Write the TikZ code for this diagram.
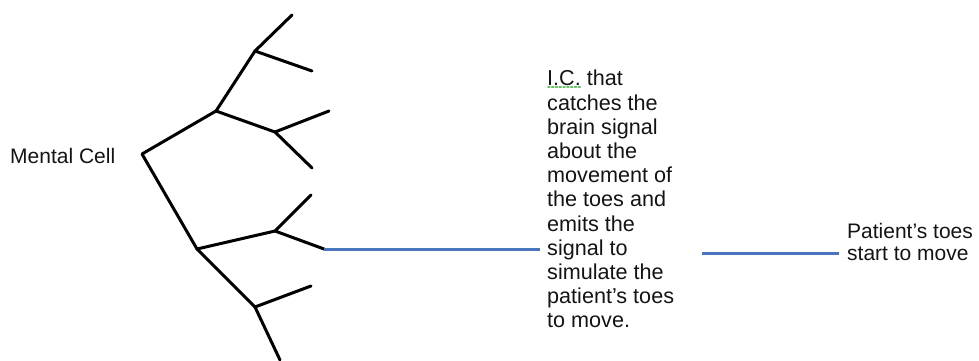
\documentclass[tikz,border=0pt]{standalone}
\usepackage{fontspec}
\setmainfont{Liberation Sans}
\definecolor{linkblue}{RGB}{74,118,190}
\definecolor{spellgreen}{RGB}{110,190,110}
\begin{document}
\begin{tikzpicture}[x=1pt,y=-1pt,
  branch/.style={draw=black,line width=3pt,line cap=round,line join=round},
  link/.style={draw=linkblue,line width=3pt},
  label/.style={inner sep=0pt,font=\fontsize{21}{24.2}\selectfont,align=left,text=black!92}]
\useasboundingbox (0,0) rectangle (979,361);
% tree junctions
\coordinate (D) at (142,154);
\coordinate (B) at (216,111);
\coordinate (A) at (255,51);
\coordinate (A1) at (292,15);
\coordinate (A2) at (312,71);
\coordinate (C) at (275,132);
\coordinate (C1) at (329,111);
\coordinate (C2) at (312,168);
\coordinate (E) at (197,249);
\coordinate (F) at (275,231);
\coordinate (F1) at (311,195);
\coordinate (F2) at (324,249);
\coordinate (G) at (255,307);
\coordinate (G1) at (311,286);
\coordinate (G2) at (280,360);
\draw[branch] (A1) -- (A) -- (A2);
\draw[branch] (A) -- (B) -- (C);
\draw[branch] (C1) -- (C) -- (C2);
\draw[branch] (B) -- (D) -- (E) -- (F);
\draw[branch] (F1) -- (F) -- (F2);
\draw[branch] (E) -- (G) -- (G1);
\draw[branch] (G) -- (G2);
% texts
\node[label,anchor=base west] (mc) at (10,163) {Mental Cell};
\node[label,anchor=north west,font=\fontsize{21.6}{24.2}\selectfont] (ic) at (547,70) {I.C. that\\catches the\\brain signal\\about the\\movement of\\the toes and\\emits the\\signal to\\simulate the\\patient’s toes\\to move.};
\node[label,anchor=north west,font=\fontsize{21}{22}\selectfont] (pt) at (847,223) {Patient’s toes\\start to move};
\draw[spellgreen,line width=1.8pt,dotted,line cap=round] (548,87) -- (582,87);
% connectors
\coordinate (s2) at (702,253);
\draw[link] (F2) -- ([xshift=-7pt]F2 -| ic.west);
\draw[link] (s2) -- ([xshift=-8pt]s2 -| pt.west);
\end{tikzpicture}
\end{document}
